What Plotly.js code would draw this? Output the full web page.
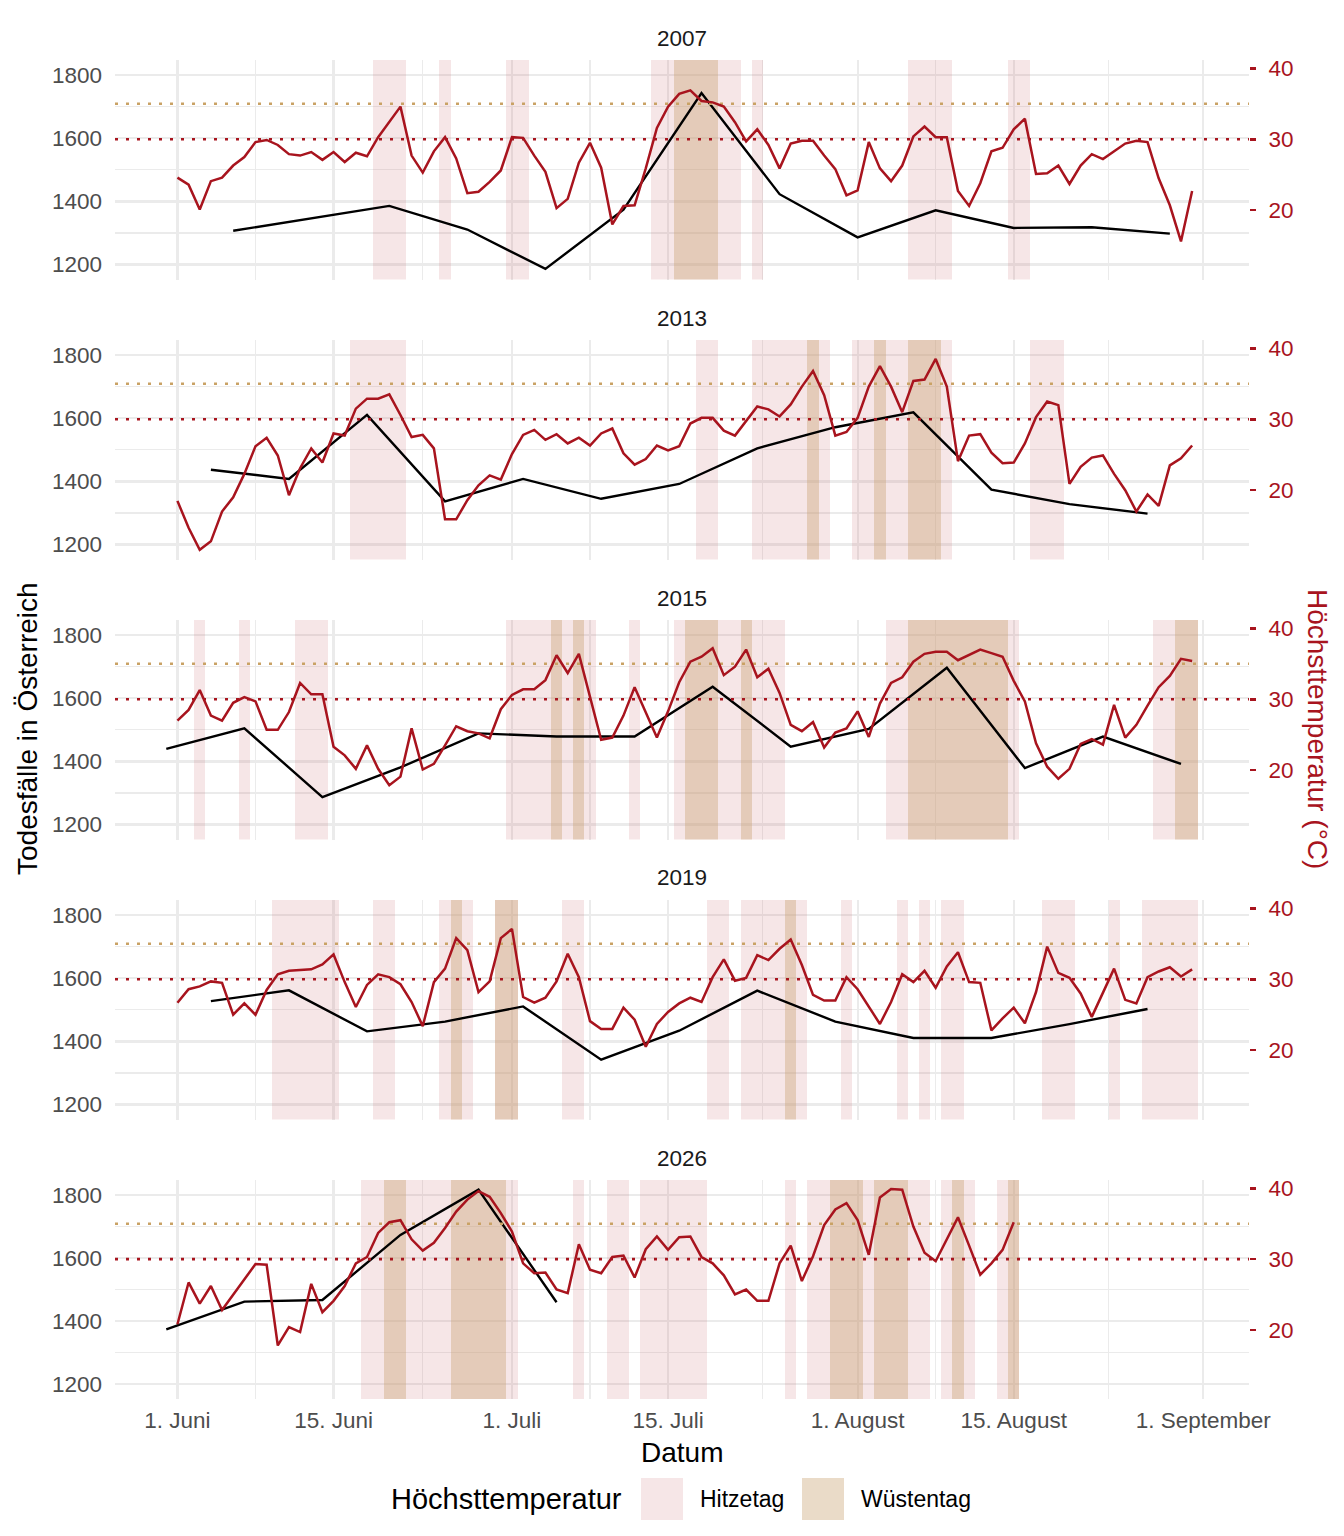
<!DOCTYPE html>
<html>
<head>
<meta charset="utf-8">
<script src="https://cdn.plot.ly/plotly-3.0.1.min.js"></script>
<style>
  html, body { margin: 0; padding: 0; background: #fff; }
  #chart { width: 1344px; height: 1536px; }
</style>
</head>
<body>
<div id="chart"></div>
<script>
// facets
const years = ['2007', '2013', '2015', '2019', '2026'];

// daily maximum temperature in °C, one value per day from 1 June on
const temp2007 = [
  24.6, 23.6, 20.1, 24.1, 24.6, 26.3, 27.5, 29.6, 29.9, 29.2,
  27.9, 27.7, 28.2, 27.1, 28.2, 26.8, 28.1, 27.6, 30.3, 32.5,
  34.6, 27.7, 25.3, 28.3, 30.3, 27.3, 22.4, 22.6, 24.0, 25.6,
  30.3, 30.2, 27.7, 25.4, 20.3, 21.6, 26.7, 29.5, 26.0, 18.0,
  20.6, 20.7, 25.9, 31.6, 34.6, 36.4, 36.9, 35.4, 35.2, 34.6,
  32.4, 29.7, 31.4, 29.2, 25.9, 29.4, 29.8, 29.8, 27.7, 25.8,
  22.1, 22.8, 29.6, 25.9, 24.1, 26.3, 30.4, 31.8, 30.3, 30.3,
  22.7, 20.6, 23.8, 28.3, 28.8, 31.4, 32.9, 25.1, 25.2, 26.3,
  23.7, 26.3, 27.9, 27.2, 28.3, 29.4, 29.8, 29.6, 24.5, 20.7,
  15.6, 22.7,
];
const temp2013 = [
  18.5, 14.7, 11.6, 12.8, 17.0, 19.0, 22.3, 26.2, 27.4, 24.9,
  19.3, 23.1, 25.9, 23.9, 28.0, 27.7, 31.5, 32.9, 32.9, 33.5,
  30.6, 27.5, 27.8, 25.9, 15.9, 15.9, 18.6, 20.7, 22.1, 21.5,
  25.1, 27.8, 28.5, 27.1, 27.9, 26.6, 27.4, 26.3, 28.0, 28.7,
  25.2, 23.6, 24.4, 26.3, 25.6, 26.2, 29.4, 30.2, 30.2, 28.4,
  27.7, 29.8, 31.8, 31.4, 30.4, 32.1, 34.6, 36.8, 33.4, 27.7,
  28.2, 30.2, 34.6, 37.5, 34.6, 31.0, 35.4, 35.6, 38.5, 34.6,
  24.1, 27.7, 27.9, 25.3, 23.8, 23.9, 26.6, 30.3, 32.5, 32.0,
  20.9, 23.3, 24.6, 24.9, 22.3, 20.0, 17.0, 19.4, 17.8, 23.5,
  24.5, 26.3,
];
const temp2015 = [
  27.0, 28.5, 31.3, 27.7, 27.0, 29.5, 30.3, 29.7, 25.7, 25.7,
  28.2, 32.3, 30.7, 30.7, 23.3, 22.1, 20.2, 23.5, 20.2, 17.9,
  19.1, 25.9, 20.1, 20.9, 23.5, 26.2, 25.5, 25.2, 24.5, 28.6,
  30.6, 31.4, 31.4, 32.7, 36.2, 33.7, 36.4, 30.3, 24.3, 24.6,
  27.7, 31.7, 28.2, 24.6, 28.3, 32.4, 35.3, 36.0, 37.2, 33.4,
  34.6, 37.0, 33.1, 34.3, 30.9, 26.4, 25.5, 26.8, 23.2, 25.3,
  25.9, 28.3, 24.7, 29.4, 32.3, 33.1, 35.3, 36.4, 36.7, 36.7,
  35.5, 36.3, 37.0, 36.5, 36.0, 32.6, 29.7, 23.8, 20.5, 18.8,
  20.2, 23.7, 24.4, 23.6, 29.2, 24.6, 26.4, 29.1, 31.7, 33.3,
  35.7, 35.4,
];
const temp2019 = [
  26.7, 28.6, 29.0, 29.7, 29.5, 25.0, 26.6, 25.0, 28.5, 30.7,
  31.2, 31.3, 31.4, 32.1, 33.5, 29.6, 26.1, 29.2, 30.7, 30.3,
  29.3, 26.8, 23.4, 29.6, 31.5, 35.8, 34.1, 28.2, 29.7, 35.8,
  37.1, 27.5, 26.7, 27.4, 29.7, 33.6, 30.3, 24.1, 23.0, 23.0,
  26.0, 24.3, 20.5, 23.7, 25.4, 26.6, 27.4, 26.8, 30.3, 32.8,
  29.8, 30.2, 33.4, 32.7, 34.3, 35.6, 32.0, 27.8, 27.0, 27.0,
  30.3, 28.6, 26.1, 23.7, 26.8, 30.7, 29.6, 31.2, 28.8, 31.8,
  33.8, 29.6, 29.5, 22.8, 24.5, 26.0, 23.8, 28.2, 34.6, 30.9,
  30.2, 28.0, 24.7, 28.0, 31.5, 27.1, 26.6, 30.3, 31.1, 31.7,
  30.4, 31.4,
];
const temp2026 = [
  20.8, 26.7, 23.7, 26.2, 22.8, 25.0, 27.1, 29.3, 29.2, 17.8,
  20.4, 19.7, 26.5, 22.5, 24.1, 26.2, 29.4, 30.3, 33.7, 35.2,
  35.5, 32.8, 31.2, 32.3, 34.4, 36.7, 38.4, 39.6, 38.8, 36.5,
  33.9, 29.4, 28.0, 28.1, 25.7, 25.2, 32.1, 28.5, 28.0, 30.3,
  30.5, 27.4, 31.4, 33.2, 31.3, 33.1, 33.2, 30.3, 29.4, 27.7,
  25.0, 25.7, 24.1, 24.1, 29.4, 31.9, 26.9, 30.4, 34.8, 37.0,
  37.9, 35.5, 30.6, 38.7, 39.9, 39.8, 34.6, 30.9, 29.7, 32.8,
  35.9, 31.9, 27.8, 29.4, 31.3, 35.2,
];

// weekly deaths in Austria: day offset from 1 June and count
const weekDays2007 = [5, 19, 26, 33, 40, 47, 54, 61, 68, 75, 82, 89];
const deaths2007 = [1307, 1386, 1311, 1186, 1374, 1744, 1423, 1286, 1372, 1316, 1318, 1298];
const weekDays2013 = [3, 10, 17, 24, 31, 38, 45, 52, 59, 66, 73, 80, 87];
const deaths2013 = [1437, 1408, 1611, 1337, 1408, 1345, 1392, 1505, 1572, 1619, 1374, 1328, 1298];
const weekDays2015 = [-1, 6, 13, 20, 27, 34, 41, 48, 55, 62, 69, 76, 83, 90];
const deaths2015 = [1440, 1505, 1287, 1381, 1489, 1479, 1479, 1637, 1447, 1503, 1697, 1379, 1479, 1392];
const weekDays2019 = [3, 10, 17, 24, 31, 38, 45, 52, 59, 66, 73, 80, 87];
const deaths2019 = [1528, 1562, 1432, 1463, 1511, 1342, 1434, 1561, 1463, 1411, 1411, 1455, 1503];
const weekDays2026 = [-1, 6, 13, 20, 27, 34];
const deaths2026 = [1374, 1462, 1467, 1674, 1818, 1460];

// axis ticks
const tickDays = [0, 14, 30, 44, 61, 75, 92];
const tickLabels = ['1. Juni', '15. Juni', '1. Juli', '15. Juli', '1. August', '15. August', '1. September'];
const deathTicks = [1200, 1400, 1600, 1800];
const tempTicks = [20, 30, 40];

// thresholds for Hitzetag / Wüstentag
const HITZE = 30;
const WUESTE = 35;

const temps = [temp2007, temp2013, temp2015, temp2019, temp2026];
const weekDays = [weekDays2007, weekDays2013, weekDays2015, weekDays2019, weekDays2026];
const deaths = [deaths2007, deaths2013, deaths2015, deaths2019, deaths2026];

const RED = '#a8141e';
const TAN_DOT = '#c9a265';
const PINK_FILL = 'rgba(200,100,105,0.16)';
const TAN_FILL = 'rgba(200,160,110,0.38)';
const GRID = '#ebebeb';
const FONT = 'Liberation Sans, Arial, Helvetica, sans-serif';
const X_RANGE = [-5.6, 96.1];
const DEATH_RANGE = [1152.5, 1848.5];
const TEMP_RANGE = [10.24, 41.17];

// page geometry
const W = 1344;
const H = 1536;
const M = { l: 115, r: 95, t: 60, b: 137 };
const plotW = W - M.l - M.r;
const plotH = H - M.t - M.b;
const px = (x) => (x - M.l) / plotW;
const py = (y) => (H - M.b - y) / plotH;
const PANEL_H = 219.5;
const PANEL_STEP = 280;

// minor grid halfway between the date ticks
const minorDays = tickDays.slice(1).map((d, i) => (d + tickDays[i]) / 2);

const layout = {
  width: W,
  height: H,
  margin: M,
  paper_bgcolor: '#fff',
  plot_bgcolor: '#fff',
  showlegend: false,
  hovermode: false,
  barmode: 'overlay',
  bargap: 0,
  font: { family: FONT, color: '#4d4d4d', size: 22 },
  shapes: [],
  annotations: [],
};
const traces = [];

years.forEach((year, k) => {
  const n = k + 1;
  const xid = k === 0 ? 'x' : `x${n}`;
  const yid = k === 0 ? 'y' : `y${n}`;
  const y2id = `y${n + 5}`;
  const top = M.t + PANEL_STEP * k;
  const domain = [Math.max(0, py(top + PANEL_H)), Math.min(1, py(top))];

  layout[k === 0 ? 'xaxis' : `xaxis${n}`] = {
    domain: [0, 1],
    anchor: yid,
    range: X_RANGE,
    tickmode: 'array',
    tickvals: tickDays,
    ticktext: tickLabels,
    showticklabels: k === years.length - 1,
    ticks: '',
    ticklabelstandoff: 5,
    tickfont: { size: 22.5, color: '#4d4d4d' },
    showgrid: true,
    gridcolor: GRID,
    gridwidth: 2.2,
    minor: { tickmode: 'array', tickvals: minorDays, showgrid: true, gridcolor: GRID, gridwidth: 1.1 },
    zeroline: false,
    showline: false,
    fixedrange: true,
  };
  layout[k === 0 ? 'yaxis' : `yaxis${n}`] = {
    domain,
    anchor: xid,
    range: DEATH_RANGE,
    tickmode: 'array',
    tickvals: deathTicks,
    ticks: '',
    ticklabelstandoff: 12,
    tickfont: { size: 22.5, color: '#4d4d4d' },
    showgrid: true,
    gridcolor: GRID,
    gridwidth: 2.2,
    minor: { dtick: 100, showgrid: true, gridcolor: GRID, gridwidth: 1.1 },
    zeroline: false,
    showline: false,
    fixedrange: true,
  };
  layout[`yaxis${n + 5}`] = {
    overlaying: yid,
    anchor: xid,
    side: 'right',
    range: TEMP_RANGE,
    tickmode: 'array',
    tickvals: tempTicks,
    ticks: 'outside',
    ticklen: 6,
    tickwidth: 2.5,
    tickcolor: RED,
    ticklabelstandoff: 8,
    tickfont: { size: 22.5, color: RED },
    showgrid: false,
    zeroline: false,
    showline: false,
    fixedrange: true,
  };

  // shaded heat days as full-height day bars, tan drawn over pink
  [[HITZE, PINK_FILL], [WUESTE, TAN_FILL]].forEach(([limit, fill]) => {
    const days = temps[k].map((t, i) => (t >= limit ? i : null)).filter((d) => d !== null);
    traces.push({
      type: 'bar',
      x: days,
      y: days.map(() => DEATH_RANGE[1] - DEATH_RANGE[0]),
      base: DEATH_RANGE[0],
      width: 1,
      xaxis: xid,
      yaxis: yid,
      marker: { color: fill, line: { width: 0 } },
      hoverinfo: 'skip',
    });
  });

  // dotted threshold lines
  [[WUESTE, TAN_DOT], [HITZE, RED]].forEach(([limit, color]) => {
    traces.push({
      type: 'scatter',
      mode: 'lines',
      x: X_RANGE,
      y: [limit, limit],
      xaxis: xid,
      yaxis: y2id,
      line: { color, width: 2.6, dash: '3px,8px' },
      hoverinfo: 'skip',
    });
  });

  traces.push({
    type: 'scatter',
    mode: 'lines',
    x: temps[k].map((_, i) => i),
    y: temps[k],
    xaxis: xid,
    yaxis: y2id,
    line: { color: RED, width: 2.5 },
    hoverinfo: 'skip',
  });
  traces.push({
    type: 'scatter',
    mode: 'lines',
    x: weekDays[k],
    y: deaths[k],
    xaxis: xid,
    yaxis: yid,
    line: { color: '#000', width: 2.4 },
    hoverinfo: 'skip',
  });

  // facet strip title
  layout.annotations.push({
    xref: 'paper',
    yref: 'paper',
    x: 0.5,
    y: py(top - 22),
    text: year,
    showarrow: false,
    xanchor: 'center',
    yanchor: 'middle',
    font: { size: 22.5, color: '#1a1a1a' },
  });
});

// axis titles
layout.annotations.push(
  {
    xref: 'paper', yref: 'paper', x: px(27), y: py(729), text: 'Todesfälle in Österreich',
    textangle: -90, showarrow: false, xanchor: 'center', yanchor: 'middle',
    font: { size: 28, color: '#000' },
  },
  {
    xref: 'paper', yref: 'paper', x: px(1318), y: py(729), text: 'Höchsttemperatur (°C)',
    textangle: 90, showarrow: false, xanchor: 'center', yanchor: 'middle',
    font: { size: 28, color: RED },
  },
  {
    xref: 'paper', yref: 'paper', x: px(682), y: py(1452), text: 'Datum',
    showarrow: false, xanchor: 'center', yanchor: 'middle',
    font: { size: 28, color: '#000' },
  },
);

// legend drawn by hand so the keys can be large squares
layout.annotations.push({
  xref: 'paper', yref: 'paper', x: px(389), y: py(1499), text: 'Höchsttemperatur',
  showarrow: false, xanchor: 'left', yanchor: 'middle', font: { size: 29, color: '#000' },
});
[['Hitzetag', PINK_FILL, 641, 698], ['Wüstentag', TAN_FILL, 802, 859]].forEach(([label, fill, kx, tx]) => {
  layout.shapes.push({
    type: 'rect', xref: 'paper', yref: 'paper',
    x0: px(kx), x1: px(kx + 42), y0: py(1520), y1: py(1478),
    fillcolor: fill, line: { width: 0 },
  });
  layout.annotations.push({
    xref: 'paper', yref: 'paper', x: px(tx), y: py(1499), text: label,
    showarrow: false, xanchor: 'left', yanchor: 'middle', font: { size: 23, color: '#000' },
  });
});

Plotly.newPlot('chart', traces, layout, { displayModeBar: false, staticPlot: true });
</script>
</body>
</html>
